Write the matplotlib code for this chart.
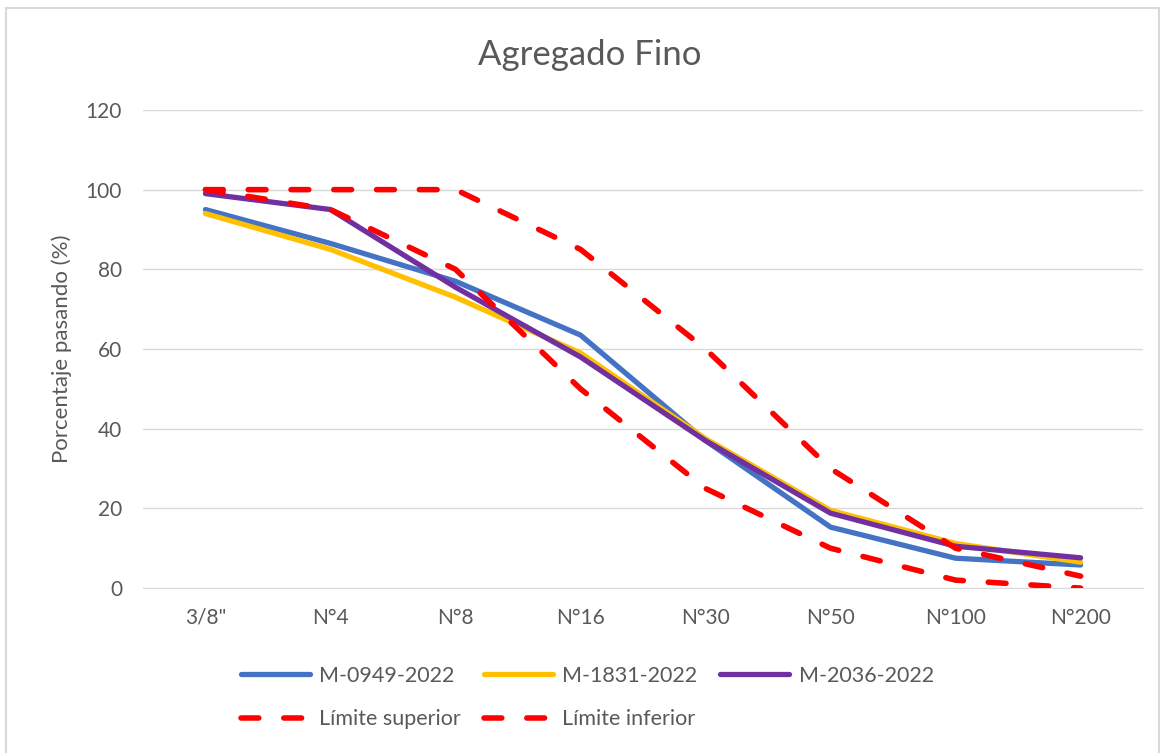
import matplotlib
matplotlib.use('Agg')
import matplotlib.pyplot as plt
from matplotlib.lines import Line2D
from matplotlib.patches import Rectangle

# tamices y porcentajes que pasan
tamices = ['3/8"', 'N°4', 'N°8', 'N°16', 'N°30', 'N°50', 'N°100', 'N°200']
m_0949 = [95, 86.5, 77, 63.5, 37, 15.3, 7.5, 5.8]
m_1831 = [94, 85, 73, 59, 37.5, 19.5, 11.2, 6.5]
m_2036 = [99, 95, 75.5, 58, 37, 18.8, 10.5, 7.6]
lim_sup = [100, 100, 100, 85, 60, 30, 10, 3]
lim_inf = [100, 95, 80, 50, 25, 10, 2, 0]

plt.rcParams['font.family'] = ['Lato', 'DejaVu Sans']
gris = '#595959'
guiones = (0, (3.2, 4.5))

fig = plt.figure(figsize=(11.65, 7.53), dpi=100)
fig.patch.set_facecolor('white')
ax = fig.add_axes([0.1227, 0.219, 0.8585, 0.635])

x = list(range(len(tamices)))
estilo = dict(linewidth=3.8, zorder=3, solid_joinstyle='round', solid_capstyle='round')
l1, = ax.plot(x, m_0949, color='#4472C4', label='M-0949-2022', **estilo)
l2, = ax.plot(x, m_1831, color='#FFC000', label='M-1831-2022', **estilo)
l3, = ax.plot(x, m_2036, color='#7030A0', label='M-2036-2022', **estilo)
ax.plot(x, lim_sup, color='#FF0000', linewidth=4, linestyle=guiones, dash_capstyle='round', zorder=4)
ax.plot(x, lim_inf, color='#FF0000', linewidth=4, linestyle=guiones, dash_capstyle='round', zorder=4)
l4 = Line2D([], [], color='#FF0000', linewidth=4, linestyle=guiones, dash_capstyle='round', label='Límite superior')
l5 = Line2D([], [], color='#FF0000', linewidth=4, linestyle=guiones, dash_capstyle='round', label='Límite inferior')

ax.set_xlim(-0.5, len(tamices) - 0.5)
ax.set_ylim(0, 120)
ax.set_yticks(range(0, 121, 20))
ax.set_xticks(x)
ax.set_xticklabels(tamices)
ax.tick_params(axis='both', length=0, labelsize=15, colors=gris)
ax.tick_params(axis='x', pad=14)
ax.tick_params(axis='y', pad=15)

ax.grid(axis='y', color='#D9D9D9', linewidth=1.0)
ax.set_axisbelow(True)
for s in ['top', 'right', 'left']:
    ax.spines[s].set_visible(False)
ax.spines['bottom'].set_color('#D9D9D9')

ax.set_ylabel('Porcentaje pasando (%)', fontsize=16, color=gris, labelpad=10)
fig.text(0.5064, 0.927, 'Agregado Fino', ha='center', va='center', fontsize=25, color=gris)

# orden para que la primera fila tenga las tres muestras
handles = [l1, l4, l2, l5, l3]
fig.legend(handles, [h.get_label() for h in handles], ncol=3, loc='center',
           bbox_to_anchor=(0.504, 0.0737), frameon=False, fontsize=15.5, labelcolor=gris,
           handlelength=3.2, handletextpad=0.45, columnspacing=1.05, labelspacing=1.1)

fig.patches.append(Rectangle((0.005, -0.01), 0.99, 1.0, transform=fig.transFigure,
                             fill=False, edgecolor='#D9D9D9', linewidth=1.5))

fig.savefig('out.png', dpi=100, facecolor='white')
